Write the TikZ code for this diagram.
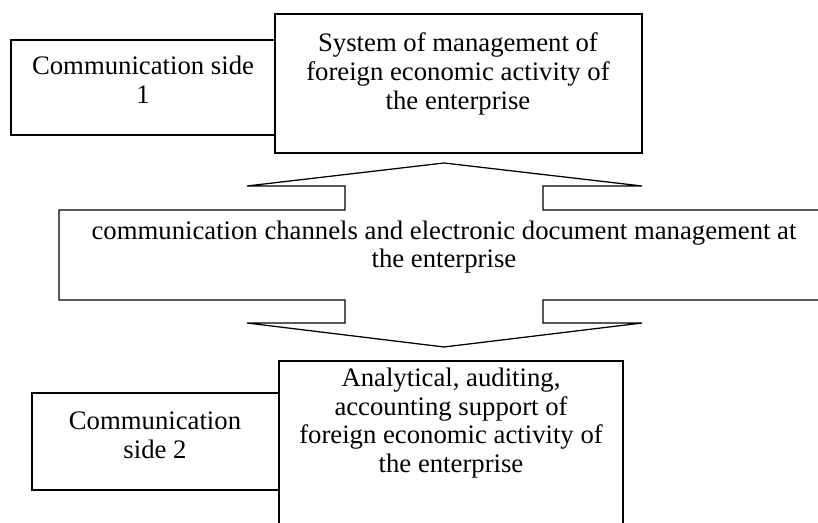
\documentclass[tikz,border=0pt]{standalone}
\usepackage{fontspec}
\setmainfont{Liberation Serif}
\begin{document}
\begin{tikzpicture}[x=0.025cm,y=-0.025cm,line width=0.9pt,
		lbl/.style={align=center,inner sep=0pt,font=\fontsize{19}{20.5}\selectfont}]
		\useasboundingbox (0,0) rectangle (818,523);
		\clip (0,0) rectangle (818,523);
		% notch and arrow head positions
		\def\hl{247}
		\def\hr{642}
		\def\nl{345}
		\def\nr{543}
		
		% upper boxes
		\draw (11,40) rectangle (275,135);
		\draw (275,14) rectangle (642,153);
		\node[lbl] (side1) at (143,80) {Communication side\\1};
		\node[lbl] (fea) at (458,74) {System of management of\\foreign economic activity of\\the enterprise};
		
		% double arrow of the channels
		\draw (\hl,186) -- (444,163) -- (\hr,186) -- (\nr,186) -- (\nr,210)
		-- (840,210) -- (840,300) -- (\nr,300) -- (\nr,323) -- (\hr,323)
		-- (444,347) -- (\hl,323) -- (\nl,323) -- (\nl,300) -- (59,300)
		-- (59,210) -- (\nl,210) -- (\nl,186) -- cycle;
		\node[lbl] (chan) at (444,247) {communication channels and electronic document management at\\the enterprise};
		
		% lower boxes
		\draw (32,393) rectangle (279,490);
		\draw (279,540) -- (279,361) -- (623,361) -- (623,540);
		\node[lbl] (side2) at (155,435) {Communication\\side 2};
		\node[lbl] (audit) at (451,423) {Analytical, auditing,\\accounting support of\\foreign economic activity of\\the enterprise};
	\end{tikzpicture}
\end{document}
